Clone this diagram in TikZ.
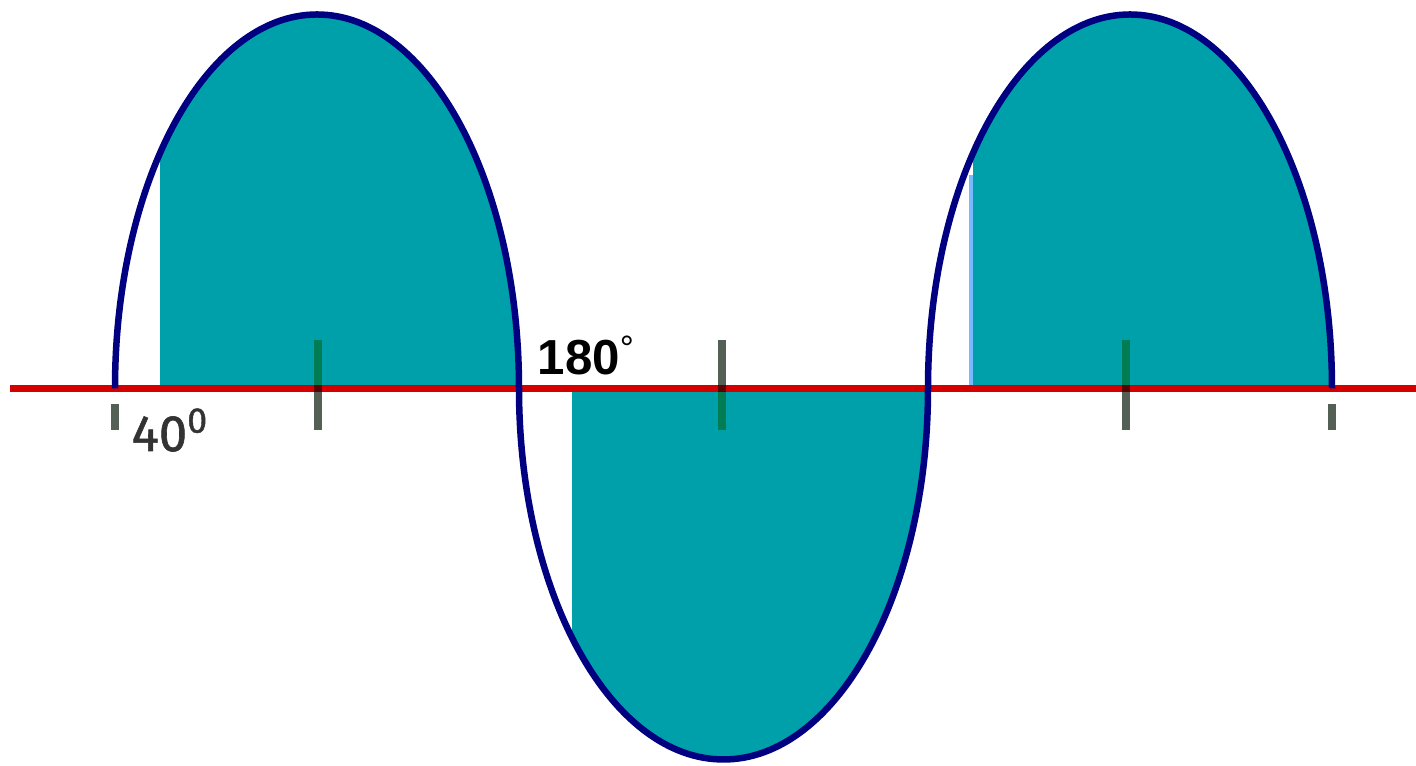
\documentclass[tikz,border=0pt]{standalone}
\usepackage{fontspec}
\setmainfont{Liberation Sans}
\newfontfamily\labelfont[FakeBold=1.2]{Fira Sans}
\usepackage{tikz}
\usepackage{xcolor}
\definecolor{wavecol}{RGB}{0,0,128}
\definecolor{fillcol}{RGB}{0,160,170}
\definecolor{axiscol}{RGB}{212,0,0}
\definecolor{tickgray}{RGB}{84,96,86}
\definecolor{tickgreen}{RGB}{0,125,82}
\definecolor{tickred}{RGB}{90,0,0}
\definecolor{edgecol}{RGB}{120,185,255}
\definecolor{textgray}{RGB}{51,51,51}

\begin{document}
\begin{tikzpicture}[wave/.style={draw=wavecol,line width=0.065cm},
  tickmark/.style={line width=0.08cm}]
\useasboundingbox (0,0) rectangle (14.16,7.66);
\coordinate (A) at (1.15,3.775);
\coordinate (B) at (5.19,3.775);
\coordinate (C) at (9.28,3.775);
\coordinate (D) at (13.32,3.775);
\coordinate (E) at (14.16,3.775);
\coordinate (O) at (0.10,3.775);
\begin{scope}
\clip (1.60,3.775) rectangle (5.19,7.66);
\fill[fillcol] (A) arc[start angle=180,end angle=0,x radius=2.02,y radius=3.74] -- cycle;
\end{scope}
\begin{scope}
\clip (5.72,0) rectangle (9.28,3.775);
\fill[fillcol] (B) arc[start angle=180,end angle=360,x radius=2.045,y radius=3.71] -- cycle;
\end{scope}
\begin{scope}
\clip (9.73,3.775) rectangle (13.32,7.66);
\fill[fillcol] (C) arc[start angle=180,end angle=0,x radius=2.02,y radius=3.74] -- cycle;
\end{scope}
\draw[edgecol,line width=0.04cm] (9.71,3.775) -- (9.71,5.91);
\draw[axiscol,line width=0.07cm] (O) -- (E);
\foreach \x in {3.175,11.26} {
  \draw[tickmark,tickgreen] (\x,4.26) -- (\x,3.81);
  \draw[tickmark,tickred] (\x,3.81) -- (\x,3.74);
  \draw[tickmark,tickgray] (\x,3.74) -- (\x,3.36);
}
\draw[tickmark,tickgray] (7.215,4.26) -- (7.215,3.81);
\draw[tickmark,tickred] (7.215,3.81) -- (7.215,3.74);
\draw[tickmark,tickgreen] (7.215,3.74) -- (7.215,3.36);
\foreach \x in {1.15,13.32}
  \draw[tickmark,tickgray] (\x,3.62) -- (\x,3.36);
\draw[wave] (A) arc[start angle=180,end angle=0,x radius=2.02,y radius=3.74]
  arc[start angle=180,end angle=360,x radius=2.045,y radius=3.71]
  arc[start angle=180,end angle=0,x radius=2.02,y radius=3.74];
\node[anchor=base west,inner sep=0,text=textgray,font=\labelfont\fontsize{14.5}{16}\selectfont] (ang40) at (1.31,3.15) {40\textsuperscript{0}};
\node[anchor=base west,inner sep=0,font=\bfseries\fontsize{14}{16}\selectfont] (ang180) at (5.37,3.91) {180\raisebox{4pt}{\fontsize{10}{12}\selectfont\mdseries °}};
\end{tikzpicture}
\end{document}
